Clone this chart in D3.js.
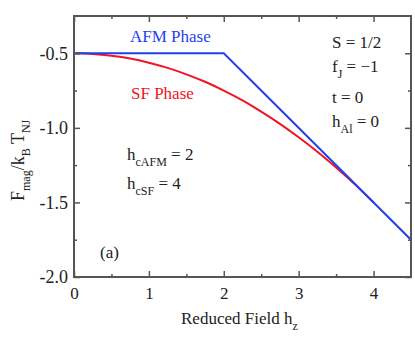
<!DOCTYPE html>
<html>
<head>
<meta charset="utf-8">
<script src="https://cdn.jsdelivr.net/npm/d3@7"></script>
<style>
  body { margin: 0; background: #fff; }
  text { font-family: "Liberation Serif", "Times New Roman", serif; }
</style>
</head>
<body>
<div id="chart"></div>
<script>
// reduced field values and free energies
var afmH = [0, 2, 4.5];
var afmF = [-0.5, -0.5, -1.75];

var sfH = [0, 0.25, 0.5, 0.75, 1, 1.25, 1.5, 1.75, 2, 2.25, 2.5, 2.75, 3, 3.25, 3.5, 3.75, 4];
var sfF = [-0.5, -0.504, -0.516, -0.535, -0.563, -0.598, -0.641, -0.691, -0.75,
           -0.816, -0.891, -0.973, -1.063, -1.16, -1.266, -1.379, -1.5];

var xTicks = [0, 1, 2, 3, 4];
var yTicks = [-2.0, -1.5, -1.0, -0.5];
var xMinor = [0.5, 1.5, 2.5, 3.5];
var yMinor = [-1.75, -1.25, -0.75];

var W = 415, H = 340;
var margin = {left: 74, right: 4, top: 16, bottom: 63};
var blue = "#1f3ff0", red = "#f01424", frame = "#555";

var svg = d3.select("#chart").append("svg")
  .attr("width", W).attr("height", H);

var x = d3.scaleLinear().domain([0, 4.5]).range([margin.left, W - margin.right]);
var y = d3.scaleLinear().domain([-2.0, -0.25]).range([H - margin.bottom, margin.top]);

var g = svg.append("g");

// curves first, then frame on top
var line = d3.line().x(function(d) { return x(d[0]); }).y(function(d) { return y(d[1]); });

g.append("path")
  .datum(sfH.map(function(h, i) { return [h, sfF[i]]; }))
  .attr("d", line.curve(d3.curveMonotoneX))
  .attr("fill", "none").attr("stroke", red).attr("stroke-width", 2);

g.append("path")
  .datum(afmH.map(function(h, i) { return [h, afmF[i]]; }))
  .attr("d", line.curve(d3.curveLinear))
  .attr("fill", "none").attr("stroke", blue).attr("stroke-width", 2);

// axes with inward ticks on all four sides
function styleAxis(sel) {
  sel.select(".domain").remove();
  sel.selectAll("line").attr("stroke", frame).attr("stroke-width", 1.5);
}

var fmt = d3.format(".1f");

svg.append("g").attr("transform", "translate(0," + y.range()[0] + ")")
  .call(d3.axisBottom(x).tickValues(xTicks).tickSizeInner(-6).tickSizeOuter(0).tickPadding(10).tickFormat(d3.format("d")))
  .call(styleAxis)
  .selectAll("text").attr("font-size", 17).attr("fill", "#222");
svg.append("g").attr("transform", "translate(0," + y.range()[0] + ")")
  .call(d3.axisBottom(x).tickValues(xMinor).tickSize(-3).tickFormat(""))
  .call(styleAxis);

svg.append("g").attr("transform", "translate(0," + y.range()[1] + ")")
  .call(d3.axisTop(x).tickValues(xTicks).tickSize(-6).tickFormat(""))
  .call(styleAxis);
svg.append("g").attr("transform", "translate(0," + y.range()[1] + ")")
  .call(d3.axisTop(x).tickValues(xMinor).tickSize(-3).tickFormat(""))
  .call(styleAxis);

svg.append("g").attr("transform", "translate(" + x.range()[0] + ",0)")
  .call(d3.axisLeft(y).tickValues(yTicks).tickSizeInner(-6).tickSizeOuter(0).tickPadding(6)
    .tickFormat(function(d) { return fmt(d).replace("\u2212", "-"); }))
  .call(styleAxis)
  .selectAll("text").attr("font-size", 18).attr("fill", "#222");
svg.append("g").attr("transform", "translate(" + x.range()[0] + ",0)")
  .call(d3.axisLeft(y).tickValues(yMinor).tickSize(-3).tickFormat(""))
  .call(styleAxis);

svg.append("g").attr("transform", "translate(" + x.range()[1] + ",0)")
  .call(d3.axisRight(y).tickValues(yTicks).tickSize(-6).tickFormat(""))
  .call(styleAxis);
svg.append("g").attr("transform", "translate(" + x.range()[1] + ",0)")
  .call(d3.axisRight(y).tickValues(yMinor).tickSize(-3).tickFormat(""))
  .call(styleAxis);

// frame
svg.append("rect")
  .attr("x", x.range()[0]).attr("y", y.range()[1])
  .attr("width", x.range()[1] - x.range()[0]).attr("height", y.range()[0] - y.range()[1])
  .attr("fill", "none").attr("stroke", frame).attr("stroke-width", 2);

// labels
function label(px, py, parts, color, size) {
  var t = svg.append("text").attr("x", px).attr("y", py)
    .attr("font-size", size || 17).attr("fill", color || "#222");
  parts.forEach(function(p) {
    var s = t.append("tspan").text(p[0]);
    if (p[1] === "sub") s.attr("font-size", 12).attr("dy", 6);
    if (p[1] === "up") s.attr("dy", -6);
  });
  return t;
}

label(130, 42, [["AFM Phase"]], blue);
label(131, 99, [["SF Phase"]], red);

label(332, 48, [["S = 1/2"]]);
label(332, 72, [["f"], ["J", "sub"], [" = \u22121", "up"]]);
label(332, 103, [["t = 0"]]);
label(332, 127, [["h"], ["Al", "sub"], [" = 0", "up"]]);

label(127, 160, [["h"], ["cAFM", "sub"], [" = 2", "up"]]);
label(127, 189, [["h"], ["cSF", "sub"], [" = 4", "up"]]);

label(100, 258, [["(a)"]]);

label(181, 324, [["Reduced Field h"], ["z", "sub"]]);

label(0, 0, [["F"], ["mag", "sub"], ["/k", "up"], ["B", "sub"], [" T", "up"], ["NJ", "sub"]], "#222", 18)
  .attr("transform", "translate(24,201) rotate(-90)");
</script>
</body>
</html>
